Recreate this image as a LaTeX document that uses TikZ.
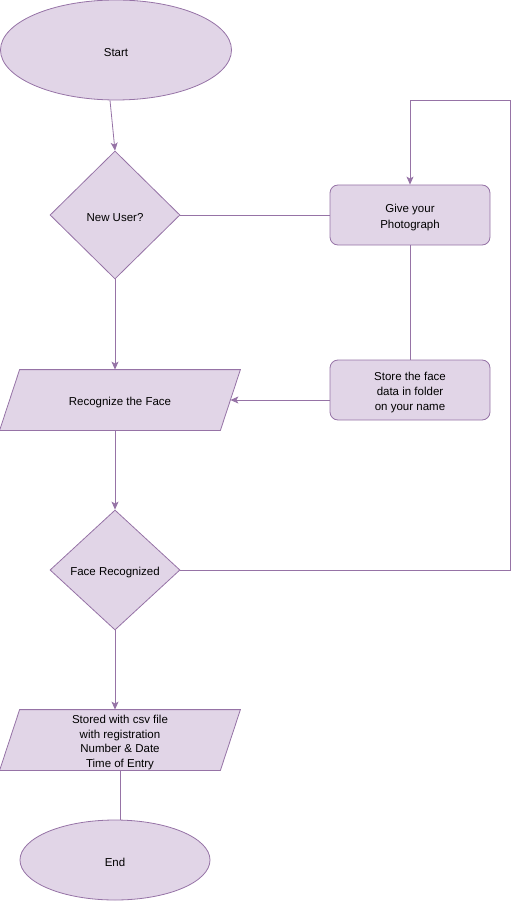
\documentclass[tikz,border=0pt]{standalone}
\usepackage{fontspec}
\setmainfont{Liberation Sans}
\usetikzlibrary{shapes.geometric,arrows.meta,backgrounds}
\definecolor{fc}{HTML}{E1D5E7}
\definecolor{dc}{HTML}{9673A6}
\newcommand{\lowtxt}[1]{\raisebox{-2.5pt}[\height][\depth]{#1}}
\begin{document}
\begin{tikzpicture}[x=1pt,y=-1pt]
\tikzset{
 base/.style={fill=fc, draw=dc, line width=0.8pt, font=\fontsize{11.5}{14.5}\selectfont, align=center, inner sep=0pt, text=black},
 term/.style={base, ellipse},
 dec/.style={base, diamond, minimum width=130pt, minimum height=128pt},
 proc/.style={base, rounded corners=8pt, minimum width=160pt, minimum height=60pt},
 io/.style={base, draw=none, fill=none, rectangle, minimum height=60pt, minimum width=220pt},
 iofill/.style={fill=fc, draw=dc, line width=0.8pt},
 conn/.style={draw=dc, line width=0.8pt},
 arr/.style={conn, -{Stealth[length=8pt,width=7pt,inset=2pt]}}
}
\useasboundingbox (0,0) rectangle (519,901);
\node[term, minimum width=231pt, minimum height=100pt] (start) at (116,50) {\lowtxt{Start}};
\node[dec] (nu) at (115,215) {\lowtxt{New User?}};
\node[proc] (gp) at (410,215) {\lowtxt{\shortstack{Give your\\[1.5pt]Photograph}}};
\node[proc] (st) at (410,390) {\lowtxt{\parbox{100pt}{\centering\fontsize{11.5}{15}\selectfont Store the face\\data in folder\\on your name}}};
\node[io] (rec) at (120,400) {\lowtxt{Recognize the Face}};
\node[dec, minimum height=120pt] (fr) at (115,570) {\lowtxt{Face Recognized}};
\node[io] (sto) at (120,740) {\lowtxt{\parbox{150pt}{\centering Stored with csv file\\with registration\\ Number \& Date\\Time of Entry}}};
\node[term, minimum width=190pt, minimum height=80pt] (en) at (115,860) {\lowtxt{End}};
\coordinate (c1) at (510,100);
\begin{scope}[on background layer]
\draw[iofill] ([xshift=10pt]rec.north west) -- ([xshift=10pt]rec.north east) -- ([xshift=-10pt]rec.south east) -- ([xshift=-10pt]rec.south west) -- cycle;
\draw[iofill] ([xshift=10pt]sto.north west) -- ([xshift=10pt]sto.north east) -- ([xshift=-10pt]sto.south east) -- ([xshift=-10pt]sto.south west) -- cycle;
\end{scope}

\draw[arr] ([xshift=-6pt]start.south) -- (nu.north);
\draw[conn] (nu.east) -- (gp.west);
\draw[conn] (gp.south) -- (st.north);
\draw[arr] (st.west |- rec.east) -- (rec.east);
\draw[arr] (nu.south) -- (nu.south |- rec.north);
\draw[arr] (nu.south |- rec.south) -- (fr.north);
\draw[arr] (fr.east) -| (c1) -| (gp.north);
\draw[arr] (fr.south) -- (fr.south |- sto.north);
\draw[conn] (sto.south) -- (sto.south |- en.north);
\end{tikzpicture}
\end{document}
